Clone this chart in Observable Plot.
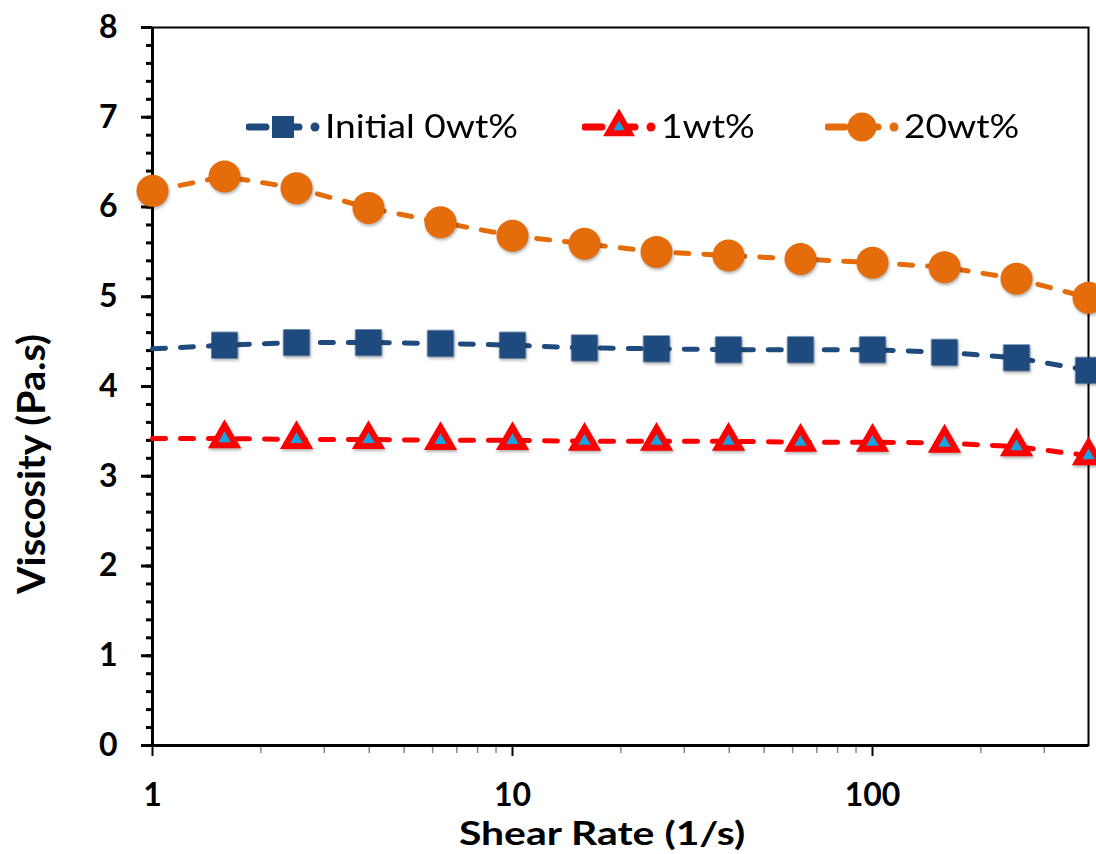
<!DOCTYPE html>
<html>
<head>
<meta charset="utf-8">
<script src="https://cdn.jsdelivr.net/npm/d3@7"></script>
<script src="https://cdn.jsdelivr.net/npm/@observablehq/plot@0.6"></script>
<style>
  html, body { margin: 0; padding: 0; background: #fff; }
  #wrap { position: relative; width: 1096px; height: 854px; overflow: hidden; font-family: Lato, "Open Sans", sans-serif; }
  .item { position: absolute; top: 106px; display: flex; align-items: center; font-size: 32px; color: #000; white-space: nowrap; }
  .item svg { display: block; }
  .item span { display: inline-block; transform: scaleX(1.16); transform-origin: left center; line-height: 1; }
  #xtitle { position: absolute; top: 819px; left: 602px; font-weight: 700; font-size: 33px; line-height: 0.8; white-space: nowrap; transform: translateX(-50%) scaleX(1.24); }
  #ytitle { position: absolute; left: 30px; top: 464px; font-weight: 700; font-size: 36px; line-height: 1; white-space: nowrap; transform: translate(-50%, -50%) rotate(-90deg) scale(1.1, 1.08); }
</style>
</head>
<body>
<div id="wrap">
  <div id="chart"></div>
  <div id="legend"></div>
  <div id="xtitle"></div>
  <div id="ytitle"></div>
</div>
<script>
// ---- data ----
const shearRate = [1, 1.585, 2.512, 3.981, 6.310, 10, 15.85, 25.12, 39.81, 63.10, 100, 158.5, 251.2, 398.1];
const initial0wt = [4.42, 4.46, 4.49, 4.49, 4.48, 4.46, 4.43, 4.42, 4.41, 4.41, 4.41, 4.38, 4.32, 4.18];
const wt1 = [3.42, 3.42, 3.41, 3.41, 3.40, 3.40, 3.39, 3.39, 3.39, 3.38, 3.38, 3.37, 3.33, 3.23];
const wt20 = [6.18, 6.34, 6.21, 5.99, 5.83, 5.68, 5.59, 5.50, 5.46, 5.42, 5.38, 5.33, 5.20, 4.99];
const seriesNames = ["Initial 0wt%", "1wt%", "20wt%"];
const xTickValues = [1, 10, 100];
const yTickValues = [0, 1, 2, 3, 4, 5, 6, 7, 8];
const xTitle = "Shear Rate (1/s)";
const yTitle = "Viscosity (Pa.s)";

// ---- styles ----
const styles = [
  {symbol: "square", r: 15, lr: 12.4, fill: "#1f4a7e", stroke: "none", sw: 0, line: "#1f4a7e", firstMarker: false, legendLeft: 246},
  {symbol: "triangle", r: 8.5, lr: 8, fill: "#17a2e0", stroke: "#ff0000", sw: 6, line: "#ff0000", firstMarker: false, legendLeft: 582},
  {symbol: "circle", r: 16, lr: 14.5, fill: "#e46c0a", stroke: "none", sw: 0, line: "#e46c0a", firstMarker: true, legendLeft: 825}
];
const seriesValues = [initial0wt, wt1, wt20];

const xDomain = [shearRate[0], shearRate[shearRate.length - 1]];
const yDomain = [yTickValues[0], yTickValues[yTickValues.length - 1]];

const minorX = [];
for (let d = 1; d <= 100; d *= 10) for (let k = 2; k <= 9; k++) if (d * k < xDomain[1]) minorX.push(d * k);
const minorY = d3.range(0, 8.0001, 0.2).map(v => +v.toFixed(1));

const marks = [];
seriesValues.forEach((vals, s) => {
  const st = styles[s];
  const rows = shearRate.map((x, i) => ({x, y: vals[i], series: seriesNames[s], i}));
  marks.push(Plot.line(rows, {x: "x", y: "y", stroke: st.line, strokeWidth: 5, strokeDasharray: "13,15", strokeLinecap: "round"}));
  marks.push(Plot.dot(rows.filter(d => st.firstMarker || d.i > 0), {
    x: "x", y: "y", symbol: st.symbol, r: st.r, fill: st.fill, stroke: st.stroke, strokeWidth: st.sw, strokeLinejoin: "miter"
  }));
});

const plot = Plot.plot({
  width: 1096,
  height: 854,
  marginLeft: 152,
  marginRight: 8,
  marginTop: 27,
  marginBottom: 109,
  style: {fontFamily: "Lato, 'Open Sans', sans-serif", color: "#000", background: "#fff", overflow: "visible"},
  x: {type: "log", domain: xDomain},
  y: {domain: yDomain},
  marks: [
    Plot.frame({stroke: "#000", strokeWidth: 2}),
    Plot.axisX(minorX, {tickSize: 8, stroke: "#888", strokeWidth: 1.5, tickFormat: () => "", label: null}),
    Plot.axisX(xTickValues, {tickSize: 11, strokeWidth: 2, tickPadding: 27, tickFormat: d => String(d), fontSize: 32, fontWeight: 700, label: null}),
    Plot.axisY(minorY, {tickSize: 6, strokeWidth: 3, tickFormat: () => "", label: null}),
    Plot.axisY(yTickValues, {tickSize: 11, strokeWidth: 3, tickPadding: 24, tickFormat: d => String(d), fontSize: 32, fontWeight: 700, label: null}),
    Plot.ruleX([xDomain[0]], {stroke: "#000", strokeWidth: 3}),
    Plot.ruleY([yDomain[0]], {stroke: "#000", strokeWidth: 3}),
    ...marks
  ]
});
plot.querySelectorAll('g[aria-label="dot"]').forEach(g => g.style.filter = "drop-shadow(1px 2px 1.5px rgba(0,0,0,0.3))");
document.getElementById("chart").appendChild(plot);

// ---- legend ----
const legend = document.getElementById("legend");
const ns = "http://www.w3.org/2000/svg";
seriesNames.forEach((name, s) => {
  const st = styles[s];
  const item = document.createElement("div");
  item.className = "item";
  item.style.left = st.legendLeft + "px";
  const svg = document.createElementNS(ns, "svg");
  svg.setAttribute("width", 79);
  svg.setAttribute("height", 40);
  const mk = (tag, attrs) => { const e = document.createElementNS(ns, tag); for (const k in attrs) e.setAttribute(k, attrs[k]); svg.appendChild(e); return e; };
  mk("line", {x1: 3, x2: 20, y1: 21, y2: 21, stroke: st.line, "stroke-width": 7, "stroke-linecap": "round"});
  mk("line", {x1: 46, x2: 53, y1: 21, y2: 21, stroke: st.line, "stroke-width": 7, "stroke-linecap": "round"});
  mk("circle", {cx: 69, cy: 21, r: 4.5, fill: st.line});
  const type = st.symbol === "square" ? d3.symbolSquare : st.symbol === "triangle" ? d3.symbolTriangle : d3.symbolCircle;
  const sym = d3.symbol().type(type).size(Math.PI * st.lr * st.lr);
  mk("path", {d: sym(), transform: "translate(37,21)", fill: st.fill, stroke: st.stroke, "stroke-width": st.sw});
  item.appendChild(svg);
  const t = document.createElement("span");
  t.textContent = name;
  item.appendChild(t);
  legend.appendChild(item);
});

document.getElementById("xtitle").textContent = xTitle;
document.getElementById("ytitle").textContent = yTitle;
</script>
</body>
</html>
